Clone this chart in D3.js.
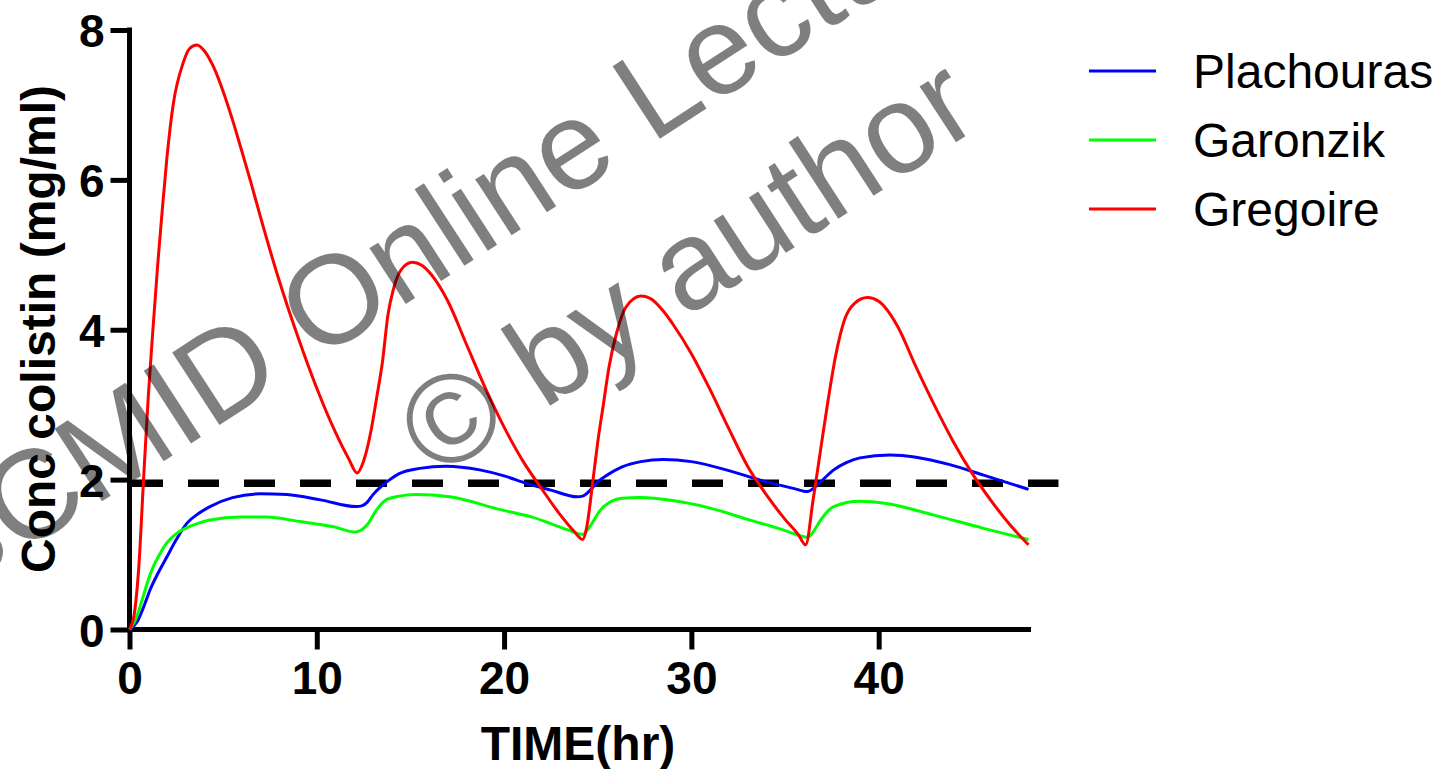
<!DOCTYPE html>
<html>
<head>
<meta charset="utf-8">
<script src="https://cdn.jsdelivr.net/npm/d3@7"></script>
<style>
  html, body { margin: 0; padding: 0; background: #fff; }
  svg { display: block; font-family: Arial, "Liberation Sans", sans-serif; }
</style>
</head>
<body>
<div id="chart"></div>
<script>
// data (time in hr, concentration in mg/ml)
const plachouras = [
  [0, 0], [0.4, 0.1], [0.8, 0.33], [1.1, 0.53], [1.5, 0.74], [2.0, 0.97], [2.5, 1.2], [3.07, 1.42],
  [3.7, 1.55], [4.3, 1.64], [5.5, 1.76], [7.0, 1.81], [8.4, 1.8], [10.2, 1.73], [12.1, 1.64],
  [12.4, 1.65], [12.7, 1.7], [13.0, 1.8], [13.4, 1.9], [13.9, 2.0], [14.4, 2.08], [15.5, 2.15],
  [16.9, 2.18], [18.7, 2.13], [20, 2.05], [21.2, 1.95], [22.5, 1.86], [23.9, 1.77], [24.2, 1.78],
  [24.6, 1.86], [25.0, 1.97], [25.5, 2.06], [26.3, 2.17], [27.3, 2.24], [28.5, 2.27], [30, 2.24],
  [32, 2.12], [34, 1.97], [35.5, 1.88], [36.2, 1.84], [36.5, 1.88], [36.9, 1.97], [37.6, 2.13],
  [38.3, 2.23], [39.0, 2.29], [40.6, 2.33], [42.0, 2.3], [43.8, 2.2], [45.6, 2.06], [48, 1.87]
];
const garonzik = [
  [0, 0], [0.3, 0.12], [0.73, 0.44], [1.0, 0.66], [1.27, 0.84], [1.6, 1.0], [2.0, 1.16], [2.5, 1.28],
  [3.07, 1.36], [3.7, 1.42], [4.3, 1.46], [5.9, 1.5], [7.3, 1.5], [9.1, 1.44], [10.9, 1.37],
  [12.05, 1.3], [12.4, 1.33], [12.7, 1.4], [13.2, 1.6], [13.7, 1.73], [14.4, 1.78], [15.3, 1.8],
  [17.1, 1.77], [19.8, 1.6], [21.5, 1.5], [23.4, 1.33], [24.2, 1.27], [24.6, 1.38], [25.1, 1.58],
  [25.6, 1.69], [26.3, 1.75], [27.3, 1.76], [29, 1.72], [31, 1.62], [33, 1.47], [35, 1.32],
  [35.8, 1.25], [36.2, 1.23], [36.5, 1.3], [36.9, 1.46], [37.6, 1.64], [39.0, 1.71], [40.4, 1.68],
  [42.9, 1.53], [45.6, 1.35], [48, 1.2]
];
const gregoire = [
  [0, 0], [0.25, 0.2], [0.5, 0.85], [0.75, 2.0], [1.0, 3.1], [1.25, 4.0], [1.5, 4.85], [1.75, 5.6],
  [2.0, 6.3], [2.33, 7.0], [2.85, 7.55], [3.2, 7.75], [3.6, 7.8], [4.0, 7.72], [4.5, 7.5], [5.0, 7.18],
  [5.5, 6.8], [6.0, 6.38], [6.5, 5.95], [7.0, 5.5], [8.0, 4.65], [9.0, 3.9], [10.0, 3.22], [11.0, 2.63],
  [11.7, 2.28], [12.15, 2.09], [12.5, 2.25], [12.9, 2.66], [13.2, 3.1], [13.5, 3.56], [13.8, 4.2],
  [14.1, 4.55], [14.5, 4.8], [15.1, 4.9], [15.6, 4.86], [16.1, 4.74], [17, 4.38], [18, 3.8],
  [19, 3.22], [20, 2.7], [21, 2.25], [22, 1.88], [23, 1.53], [23.7, 1.32], [24.2, 1.2], [24.4, 1.35],
  [24.75, 2.0], [25.0, 2.5], [25.3, 3.0], [25.6, 3.5], [26.0, 3.95], [26.5, 4.3], [27.3, 4.45],
  [27.8, 4.42], [28.5, 4.25], [29, 4.08], [30, 3.68], [31, 3.2], [32, 2.68], [33, 2.18],
  [34, 1.8], [35, 1.47], [35.7, 1.27], [36.1, 1.13], [36.5, 1.73], [36.9, 2.4], [37.3, 3.06],
  [37.7, 3.65], [38.2, 4.15], [38.7, 4.35], [39.4, 4.43], [40.0, 4.38], [41, 4.05], [42, 3.5],
  [43, 2.98], [44, 2.5], [45, 2.08], [46, 1.72], [47, 1.4], [48, 1.13]
];

const seriesNames = ["Plachouras", "Garonzik", "Gregoire"];
const seriesColors = ["#0000ff", "#00ff00", "#ff0000"];
const xTicks = [0, 10, 20, 30, 40];
const yTicks = [0, 2, 4, 6, 8];
const threshold = 1.95;          // dashed reference line
const thresholdEnd = 49.6;       // dashed line runs a bit past the axis

const width = 1440, height = 769;

const svg = d3.select("#chart").append("svg")
  .attr("width", width)
  .attr("height", height);

const x = d3.scaleLinear().domain([0, 48]).range([129.5, 1028.5]);
const y = d3.scaleLinear().domain([0, 8]).range([629.5, 30]);

// axes
const xAxis = svg.append("g")
  .attr("transform", `translate(0, ${y(0)})`)
  .call(d3.axisBottom(x).tickValues(xTicks).tickSize(20).tickPadding(12).tickSizeOuter(0));
xAxis.select(".domain").attr("d", `M${x(0) - 2.5},0H${x(48) + 2.5}`);

const yAxis = svg.append("g")
  .attr("transform", `translate(${x(0)}, 0)`)
  .call(d3.axisLeft(y).tickValues(yTicks).tickSize(19).tickPadding(6).tickSizeOuter(0));
yAxis.select(".domain").attr("d", `M0,${y(0) + 2.5}V${y(8) - 2.5}`);

svg.selectAll(".domain").attr("stroke", "#000").attr("stroke-width", 5);
svg.selectAll(".tick line").attr("stroke", "#000").attr("stroke-width", 5);
svg.selectAll(".tick text")
  .attr("fill", "#000")
  .style("font-size", "46px")
  .style("font-weight", "bold")
  .style("font-family", "Arial, 'Liberation Sans', sans-serif");
yAxis.selectAll(".tick text").attr("dy", "0.36em");

// axis titles
svg.append("text")
  .attr("x", 578)
  .attr("y", 760)
  .attr("text-anchor", "middle")
  .style("font-size", "48px")
  .style("font-weight", "bold")
  .text("TIME(hr)");

svg.append("text")
  .attr("transform", "translate(55, 329) rotate(-90)")
  .attr("text-anchor", "middle")
  .style("font-size", "48px")
  .style("font-weight", "bold")
  .text("Conc colistin (mg/ml)");

// dashed line
svg.append("line")
  .attr("x1", x(0) + 2.5)
  .attr("x2", x(thresholdEnd))
  .attr("y1", y(threshold))
  .attr("y2", y(threshold))
  .attr("stroke", "#000")
  .attr("stroke-width", 7.5)
  .attr("stroke-dasharray", "31,25");

// curves
const line = d3.line()
  .x(d => x(d[0]))
  .y(d => y(d[1]))
  .curve(d3.curveMonotoneX);

const allSeries = [plachouras, garonzik, gregoire];
svg.selectAll(".curve")
  .data(allSeries)
  .enter()
  .append("path")
  .attr("class", "curve")
  .attr("d", line)
  .attr("fill", "none")
  .attr("stroke", (d, i) => seriesColors[i])
  .attr("stroke-width", 3);

// legend
const legend = svg.selectAll(".legend")
  .data(seriesNames)
  .enter()
  .append("g")
  .attr("class", "legend")
  .attr("transform", (d, i) => `translate(1089, ${71 + i * 69})`);

legend.append("line")
  .attr("x1", 0).attr("x2", 67)
  .attr("stroke", (d, i) => seriesColors[i])
  .attr("stroke-width", 3);

legend.append("text")
  .attr("x", 104)
  .attr("y", 17)
  .style("font-size", "48px")
  .text(d => d);

// watermark
const wm = svg.append("g").attr("fill", "#000").attr("fill-opacity", 0.5)
  .style("font-size", "126px");
wm.append("text")
  .attr("transform", "translate(-124, 648) rotate(-33)")
  .text("ESCMID Online Lecture Library");
wm.append("text")
  .attr("transform", "translate(436, 480) rotate(-33)")
  .text("© by author");
</script>
</body>
</html>
